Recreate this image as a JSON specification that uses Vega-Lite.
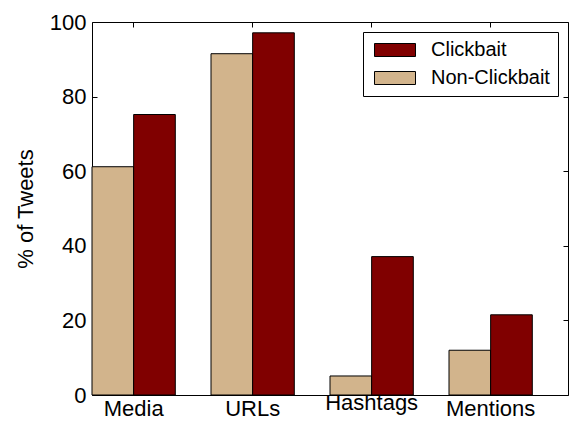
{
  "$schema": "https://vega.github.io/schema/vega-lite/v6.json",
  "autosize": "none",
  "width": 476,
  "height": 373,
  "padding": {"left": 92, "top": 22, "right": 13, "bottom": 41},
  "background": "white",
  "data": {
    "values": [
      {"feature": "Media", "type": "Non-Clickbait", "pct": 61.2},
      {"feature": "Media", "type": "Clickbait", "pct": 75.2},
      {"feature": "URLs", "type": "Non-Clickbait", "pct": 91.5},
      {"feature": "URLs", "type": "Clickbait", "pct": 97.1},
      {"feature": "Hashtags", "type": "Non-Clickbait", "pct": 5.1},
      {"feature": "Hashtags", "type": "Clickbait", "pct": 37.1},
      {"feature": "Mentions", "type": "Non-Clickbait", "pct": 12.0},
      {"feature": "Mentions", "type": "Clickbait", "pct": 21.5}
    ]
  },
  "layer": [
    {
      "mark": {"type": "bar", "stroke": "black", "strokeWidth": 1},
      "encoding": {
        "x": {
          "field": "feature", "type": "nominal", "sort": ["Media", "URLs", "Hashtags", "Mentions"],
          "scale": {"paddingInner": 0.3, "paddingOuter": 0.15, "align": 0},
          "axis": {
            "orient": "bottom", "title": null, "labelAngle": 0, "domain": false,
            "tickSize": -5, "tickColor": "black", "tickWidth": 1,
            "labelFont": "Liberation Sans", "labelFontSize": 22, "labelColor": "black",
            "labelPadding": {"condition": {"test": "datum.value === 'Hashtags'", "value": 2}, "value": 8}
          }
        },
        "xOffset": {"field": "type", "type": "nominal", "scale": {"domain": ["Non-Clickbait", "Clickbait"], "paddingInner": 0, "paddingOuter": 0}},
        "y": {
          "field": "pct", "type": "quantitative",
          "scale": {"domain": [0, 100], "nice": false},
          "axis": {
            "orient": "left", "title": "% of Tweets", "values": [0, 20, 40, 60, 80, 100],
            "grid": false, "domain": false, "tickSize": -5, "tickColor": "black", "tickWidth": 1,
            "labelFont": "Liberation Sans", "labelFontSize": 22, "labelColor": "black", "labelPadding": 11,
            "titleFont": "Liberation Sans", "titleFontSize": 22, "titleFontWeight": "normal", "titleColor": "black", "titlePadding": 12
          }
        },
        "color": {
          "field": "type", "type": "nominal",
          "scale": {"domain": ["Clickbait", "Non-Clickbait"], "range": ["#800000", "#D2B48C"]},
          "legend": {
            "title": null, "orient": "top-right", "offset": 10,
            "symbolType": "M-1,-1L5.31,-1L5.31,1L-1,1Z", "symbolSize": 169,
            "symbolStrokeColor": "black", "symbolStrokeWidth": 1, "symbolOpacity": 1,
            "labelFont": "Liberation Sans", "labelFontSize": 20, "labelColor": "black", "labelOffset": 40,
            "rowPadding": 8, "padding": 8, "strokeColor": "black", "fillColor": "white", "cornerRadius": 0
          }
        }
      }
    },
    {
      "mark": {"type": "bar", "opacity": 0},
      "encoding": {
        "x": {
          "field": "feature", "type": "nominal", "sort": ["Media", "URLs", "Hashtags", "Mentions"],
          "axis": {"orient": "top", "title": null, "labels": false, "domain": false, "tickSize": -5, "tickColor": "black", "tickWidth": 1}
        },
        "xOffset": {"field": "type", "type": "nominal"},
        "y": {
          "field": "pct", "type": "quantitative",
          "axis": {"orient": "right", "title": null, "labels": false, "values": [0, 20, 40, 60, 80, 100], "grid": false, "domain": false, "tickSize": -5, "tickColor": "black", "tickWidth": 1}
        }
      }
    }
  ],
  "resolve": {"axis": {"x": "independent", "y": "independent"}},
  "config": {
    "view": {"stroke": "black", "strokeWidth": 1},
    "font": "Liberation Sans"
  }
}
